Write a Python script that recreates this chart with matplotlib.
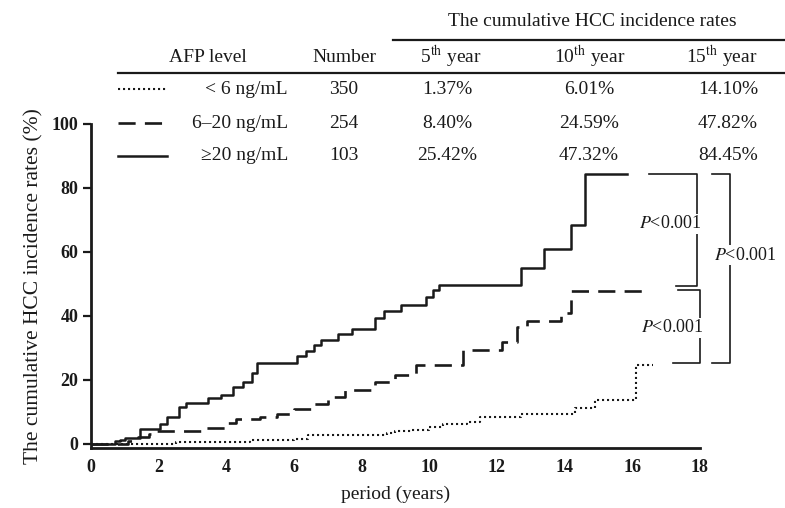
import matplotlib
matplotlib.use("Agg")
import matplotlib.pyplot as plt
from matplotlib.lines import Line2D

plt.rcParams['font.family'] = ['Liberation Serif', 'DejaVu Serif']
plt.rcParams['mathtext.fontset'] = 'stix'

# step curves (time in years, cumulative %)
t_high = [0, 0.7, 0.85, 1.0, 1.45, 2.05, 2.25, 2.6, 2.8, 3.45, 3.85, 4.2, 4.5, 4.75, 4.9,
          6.1, 6.35, 6.6, 6.8, 7.3, 7.7, 8.4, 8.65, 9.15, 9.9, 10.1, 10.3, 12.7, 13.4,
          14.2, 14.6, 15.85]
v_high = [0, 0.8, 1.4, 2.0, 4.8, 6.4, 8.3, 11.6, 12.7, 14.3, 15.3, 17.9, 19.5, 22.1, 25.4,
          27.5, 29.2, 31.0, 32.5, 34.4, 36.0, 39.5, 41.5, 43.5, 46.0, 48.0, 49.8, 55.0, 61.0,
          68.5, 84.45, 84.45]

t_mid = [0, 1.1, 1.4, 1.7, 1.9, 3.3, 4.05, 4.3, 5.0, 5.5, 6.0, 6.6, 7.0, 7.5, 8.4, 9.0,
         9.6, 11.0, 12.15, 12.6, 12.9, 13.9, 14.2, 16.5]
v_mid = [0, 1.0, 2.2, 3.0, 4.0, 5.0, 6.5, 7.7, 8.4, 9.5, 11.0, 12.6, 14.7, 16.8, 19.5, 21.6,
         24.6, 29.4, 32.0, 36.5, 38.3, 41.0, 47.8, 47.8]

t_low = [0, 2.5, 4.7, 6.0, 6.4, 8.75, 9.0, 9.5, 10.0, 10.4, 11.1, 11.5, 12.7, 14.3, 14.9,
         16.1, 16.6]
v_low = [0, 0.7, 1.25, 1.6, 2.8, 3.5, 4.0, 4.5, 5.4, 6.4, 7.0, 8.5, 9.4, 11.2, 13.8,
         24.7, 24.7]

# table above the plot
afp_levels = ['< 6 ng/mL', '6\u201320 ng/mL', '\u226520 ng/mL']
numbers = ['350', '254', '103']
rate_5 = ['1.37%', '8.40%', '25.42%']
rate_10 = ['6.01%', '24.59%', '47.32%']
rate_15 = ['14.10%', '47.82%', '84.45%']
col_heads = ['AFP level', 'Number', r'5$^{\mathrm{th}}$ year', r'10$^{\mathrm{th}}$ year',
             r'15$^{\mathrm{th}}$ year']
p_text = r'$P$<0.001'

W, H = 785, 508
fig = plt.figure(figsize=(W / 100, H / 100), dpi=100)
ax = fig.add_axes([91 / W, 1 - 448 / H, (700 - 91) / W, (448 - 124) / H])

ink = '#1a1a1a'
styles = [dict(ls=(0, (1, 1.4)), lw=1.5), dict(ls=(0, (6.5, 3.5)), lw=1.9), dict(ls='-', lw=1.8)]
series = [(t_low, v_low), (t_mid, v_mid), (t_high, v_high)]
for (t, v), st in zip(series, styles):
    ax.plot(t, v, drawstyle='steps-post', color=ink, **st)

ax.set_xlim(0, 18)
ax.set_ylim(-1.25, 100)
ax.set_xticks(range(0, 19, 2))
ax.set_yticks(range(0, 101, 20))
for s in ['top', 'right']:
    ax.spines[s].set_visible(False)
for s in ['left', 'bottom']:
    ax.spines[s].set_linewidth(2)
    ax.spines[s].set_color(ink)
ax.tick_params(axis='x', length=0, pad=8, labelsize=13, colors=ink)
ax.tick_params(axis='y', length=6, width=1.6, pad=3, labelsize=13, colors=ink)
for lab in ax.get_xticklabels() + ax.get_yticklabels():
    lab.set_fontweight('bold')
ax.set_xlabel('period (years)', fontsize=14, labelpad=7, color=ink)
ax.set_ylabel('The cumulative HCC incidence rates (%)', fontsize=15.5, labelpad=6, color=ink)

# significance brackets
top = v_high[-1]
mid = v_mid[-1]
low = v_low[-1]
br = dict(color=ink, lw=1.2, clip_on=False)
ax.plot([16.5, 17.9, 17.9, 17.3], [top, top, mid + 1.6, mid + 1.6], **br)
ax.plot([17.35, 18.0, 18.0, 17.2], [mid + 0.3, mid + 0.3, low + 0.6, low + 0.6], **br)
ax.plot([18.35, 18.9, 18.9, 18.35], [top, top, low + 0.6, low + 0.6], **br)
box = dict(facecolor='white', edgecolor='none', pad=1)
ax.text(18.05, 68.8, p_text, ha='right', va='center', fontsize=13, color=ink, bbox=box,
        clip_on=False)
ax.text(18.1, 36.3, p_text, ha='right', va='center', fontsize=13, color=ink, bbox=box,
        clip_on=False)
ax.text(19.35, 59.0, p_text, ha='center', va='center', fontsize=13, color=ink, bbox=box,
        clip_on=False)

# table
def fx(px):
    return px / W

def fy(py):
    return 1 - py / H

fs = 14
fig.text(fx(592), fy(22), 'The cumulative HCC incidence rates', ha='center', va='center',
         fontsize=fs, color=ink)
fig.add_artist(Line2D([fx(393), fx(785)], [fy(40), fy(40)], color=ink, lw=1.6))
for x, h in zip([208, 344, 451, 590, 722], col_heads):
    fig.text(fx(x), fy(57), h, ha='center', va='center', fontsize=fs, color=ink)
fig.add_artist(Line2D([fx(118), fx(785)], [fy(73), fy(73)], color=ink, lw=1.6))

row_y = [89, 123, 156]
for i, y in enumerate(row_y):
    fig.add_artist(Line2D([fx(118), fx(167)], [fy(y), fy(y)], color=ink, **styles[i]))
    fig.text(fx(288), fy(y), afp_levels[i], ha='right', va='center', fontsize=fs, color=ink)
    fig.text(fx(344), fy(y), numbers[i], ha='center', va='center', fontsize=fs, color=ink)
    fig.text(fx(447), fy(y), rate_5[i], ha='center', va='center', fontsize=fs, color=ink)
    fig.text(fx(589), fy(y), rate_10[i], ha='center', va='center', fontsize=fs, color=ink)
    fig.text(fx(728), fy(y), rate_15[i], ha='center', va='center', fontsize=fs, color=ink)

fig.savefig('out.png', dpi=100, facecolor='white')
